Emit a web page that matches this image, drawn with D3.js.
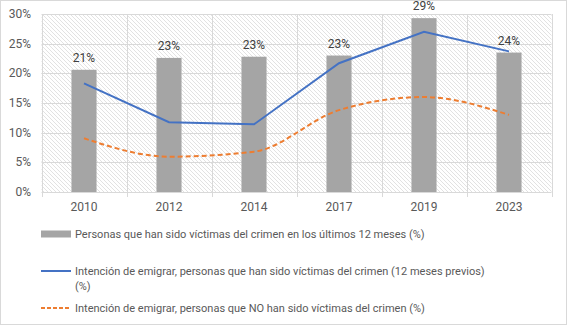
<!DOCTYPE html>
<html>
<head>
<meta charset="utf-8">
<script src="https://cdn.jsdelivr.net/npm/d3@7"></script>
<style>
  body { margin: 0; background: #fff; }
  text { font-family: Roboto, "Noto Sans", sans-serif; }
</style>
</head>
<body>
<div id="chart"></div>
<script>
const years = ["2010", "2012", "2014", "2017", "2019", "2023"];
const victims = [0.206, 0.226, 0.228, 0.230, 0.293, 0.235];
const emigrateVictims = [0.183, 0.1175, 0.114, 0.217, 0.270, 0.237];
const emigrateNonVictims = [0.0905, 0.0595, 0.068, 0.138, 0.160, 0.130];
const yTicks = [0, 0.05, 0.10, 0.15, 0.20, 0.25, 0.30];

const legendLabels = [
    ["Personas que han sido víctimas del crimen en los últimos 12 meses (%)"],
    ["Intención de emigrar, personas que han sido víctimas del crimen (12 meses previos)", "(%)"],
    ["Intención de emigrar, personas que NO han sido víctimas del crimen (%)"]
];

const W = 567, H = 325;
const plot = { left: 41.5, right: 551.5, top: 14, bottom: 192 };

const svg = d3.select("#chart")
    .append("svg")
    .attr("width", W)
    .attr("height", H);

// hatched fill for the plot area
const defs = svg.append("defs");
const pat = defs.append("pattern")
    .attr("id", "hatch")
    .attr("patternUnits", "userSpaceOnUse")
    .attr("width", 4)
    .attr("height", 4);
pat.append("rect").attr("width", 4).attr("height", 4).attr("fill", "#fff");
pat.append("path")
    .attr("d", "M-1,-1 L5,5 M-1,3 L1,5 M3,-1 L5,1")
    .attr("stroke", "#d6d6d6")
    .attr("stroke-width", 0.7);

svg.append("rect")
    .attr("x", 0.5).attr("y", 0.5)
    .attr("width", W - 1).attr("height", H - 1)
    .attr("fill", "#fff")
    .attr("stroke", "#d9d9d9");

const x = d3.scaleBand()
    .domain(years)
    .range([plot.left, plot.right]);

const y = d3.scaleLinear()
    .domain([0, 0.30])
    .range([plot.bottom, plot.top]);

svg.append("rect")
    .attr("x", plot.left).attr("y", plot.top)
    .attr("width", plot.right - plot.left)
    .attr("height", plot.bottom - plot.top)
    .attr("fill", "url(#hatch)");

// gridlines
svg.append("g")
    .selectAll("line")
    .data(yTicks)
    .join("line")
    .attr("x1", plot.left).attr("x2", plot.right)
    .attr("y1", d => Math.round(y(d)) + 0.5)
    .attr("y2", d => Math.round(y(d)) + 0.5)
    .attr("stroke", "#d9d9d9");

const bounds = years.map(d => x(d)).concat([plot.right]);
svg.append("g")
    .selectAll("line")
    .data(bounds)
    .join("line")
    .attr("x1", d => Math.round(d) + 0.5).attr("x2", d => Math.round(d) + 0.5)
    .attr("y1", plot.top).attr("y2", plot.bottom + 5)
    .attr("stroke", "#d9d9d9");

// y axis labels
svg.append("g")
    .selectAll("text")
    .data(yTicks)
    .join("text")
    .attr("x", 31)
    .attr("y", d => y(d) + 4)
    .attr("text-anchor", "end")
    .attr("font-size", 12)
    .attr("fill", "#595959")
    .text(d3.format(".0%"));

// x axis labels
svg.append("g")
    .selectAll("text")
    .data(years)
    .join("text")
    .attr("x", d => x(d) + x.bandwidth() / 2)
    .attr("y", 211)
    .attr("text-anchor", "middle")
    .attr("font-size", 12)
    .attr("fill", "#595959")
    .text(d => d);

// bars
const barW = x.bandwidth() * 0.295;
svg.append("g")
    .selectAll("rect")
    .data(victims)
    .join("rect")
    .attr("x", (d, i) => x(years[i]) + x.bandwidth() / 2 - barW / 2)
    .attr("y", d => y(d))
    .attr("width", barW)
    .attr("height", d => y(0) - y(d))
    .attr("fill", "#a5a5a5");

svg.append("g")
    .selectAll("text")
    .data(victims)
    .join("text")
    .attr("x", (d, i) => x(years[i]) + x.bandwidth() / 2)
    .attr("y", d => y(d) - 8)
    .attr("text-anchor", "middle")
    .attr("font-size", 12)
    .attr("fill", "#404040")
    .text(d3.format(".0%"));

const cx = i => x(years[i]) + x.bandwidth() / 2;

svg.append("path")
    .datum(emigrateVictims)
    .attr("fill", "none")
    .attr("stroke", "#4472c4")
    .attr("stroke-width", 2)
    .attr("d", d3.line().x((d, i) => cx(i)).y(d => y(d)));

svg.append("path")
    .datum(emigrateNonVictims)
    .attr("fill", "none")
    .attr("stroke", "#ed7d31")
    .attr("stroke-width", 2)
    .attr("stroke-dasharray", "5,3")
    .attr("d", d3.line().x((d, i) => cx(i)).y(d => y(d)).curve(d3.curveMonotoneX));

// legend
const legend = svg.append("g");
const legendY = [234, 271, 308];

legend.append("rect")
    .attr("x", 41).attr("y", legendY[0] - 3.5)
    .attr("width", 30).attr("height", 7)
    .attr("fill", "#a5a5a5");
legend.append("line")
    .attr("x1", 41).attr("x2", 71)
    .attr("y1", legendY[1]).attr("y2", legendY[1])
    .attr("stroke", "#4472c4").attr("stroke-width", 2);
legend.append("line")
    .attr("x1", 41).attr("x2", 71)
    .attr("y1", legendY[2]).attr("y2", legendY[2])
    .attr("stroke", "#ed7d31").attr("stroke-width", 2)
    .attr("stroke-dasharray", "4,2");

legendLabels.forEach((lines, i) => {
    const t = legend.append("text")
        .attr("x", 75)
        .attr("y", legendY[i] + 4)
        .attr("font-size", 11)
        .attr("fill", "#595959");
    lines.forEach((s, j) => {
        t.append("tspan")
            .attr("x", 75)
            .attr("dy", j === 0 ? 0 : 15)
            .text(s);
    });
});
</script>
</body>
</html>
